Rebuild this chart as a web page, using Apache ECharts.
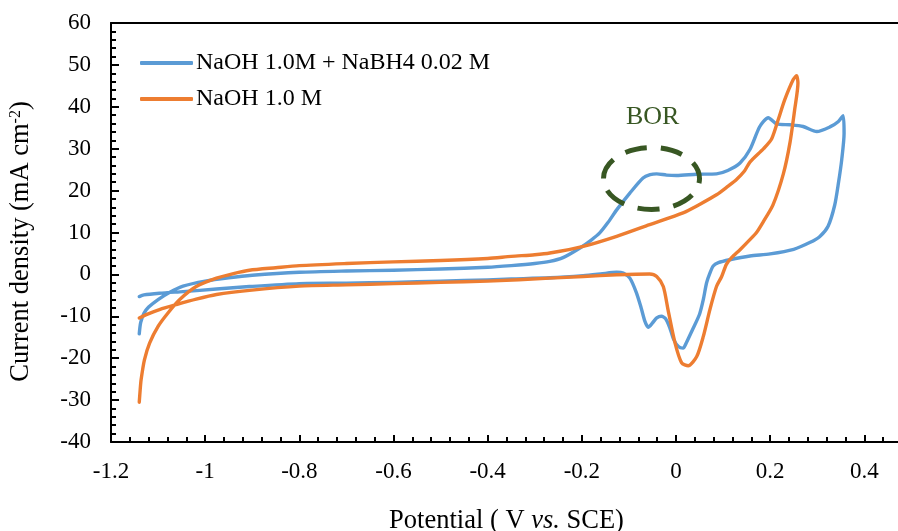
<!DOCTYPE html>
<html>
<head>
<meta charset="utf-8">
<script src="https://cdn.jsdelivr.net/npm/echarts@6/dist/echarts.min.js"></script>
<style>
  html, body { margin: 0; padding: 0; background: #ffffff; }
  #chart { width: 898px; height: 531px; }
</style>
</head>
<body>
<div id="chart"></div>
<script>
// Cyclic voltammograms: potential (V vs. SCE) and current density (mA cm-2), in scan order.
const bhPotential = [
  -1.140, -1.137, -1.130, -1.120, -1.100, -1.076, -1.047, -1.000, -0.950, -0.900,
  -0.800, -0.700, -0.600, -0.500, -0.400, -0.350, -0.300, -0.268, -0.240, -0.204,
  -0.180, -0.162, -0.145, -0.126, -0.098, -0.070, -0.055, -0.041, -0.020, 0.001,
  0.044, 0.086, 0.110, 0.136, 0.157, 0.178, 0.196, 0.214, 0.242, 0.270,
  0.299, 0.327, 0.345, 0.355,
  0.357, 0.352, 0.345, 0.337, 0.323, 0.305, 0.284, 0.250, 0.200, 0.157,
  0.114, 0.090, 0.079, 0.072, 0.065, 0.058, 0.050, 0.035, 0.022, 0.015,
  0.005, -0.005, -0.013, -0.022, -0.031, -0.041, -0.050, -0.059, -0.066, -0.074,
  -0.084, -0.098, -0.112, -0.126, -0.160, -0.197, -0.268, -0.350, -0.400, -0.500,
  -0.600, -0.700, -0.800, -0.906, -0.976, -1.047, -1.097, -1.130, -1.140
];
const bhCurrent = [
  -14.2, -11.5, -9.3, -7.8, -6.0, -4.3, -2.8, -1.6, -0.8, -0.2,
  0.5, 0.8, 1.0, 1.3, 1.7, 2.1, 2.6, 3.1, 4.0, 6.3,
  8.2, 9.9, 12.3, 15.4, 19.4, 23.0, 23.8, 24.0, 23.7, 23.6,
  23.9, 24.0, 24.8, 26.6, 29.8, 35.3, 37.4, 35.9, 35.7, 35.3,
  34.1, 35.2, 36.5, 37.9,
  33.7, 27.4, 21.8, 16.5, 11.5, 9.0, 7.6, 6.0, 4.9, 4.4,
  3.5, 2.8, 2.0, 0.3, -2.0, -6.0, -9.5, -13.2, -16.3, -17.6,
  -17.2, -15.5, -12.8, -10.6, -10.0, -10.4, -11.6, -12.6, -11.2, -8.0,
  -4.4, -0.9, 0.3, 0.5, 0.1, -0.3, -0.8, -1.1, -1.3, -1.6,
  -1.9, -2.1, -2.2, -2.9, -3.5, -4.1, -4.5, -4.9, -5.3
];

const naohPotential = [
  -1.140, -1.138, -1.136, -1.129, -1.118, -1.100, -1.079, -1.054, -1.019, -0.976,
  -0.940, -0.906, -0.850, -0.800, -0.700, -0.600, -0.500, -0.400, -0.350, -0.300,
  -0.268, -0.197, -0.126, -0.056, 0.015, 0.050, 0.086, 0.110, 0.128, 0.145,
  0.157, 0.186, 0.203, 0.217, 0.231, 0.249, 0.256,
  0.259, 0.252, 0.242, 0.228, 0.206, 0.185, 0.171, 0.157, 0.136, 0.118,
  0.107, 0.097, 0.086, 0.072, 0.058, 0.044, 0.026, 0.012, -0.002, -0.017,
  -0.027, -0.041, -0.056, -0.126, -0.197, -0.268, -0.400, -0.500, -0.600, -0.700,
  -0.800, -0.906, -0.976, -1.019, -1.061, -1.097, -1.125, -1.140
];
const naohCurrent = [
  -30.5, -27.5, -25.1, -20.4, -16.4, -12.4, -9.2, -6.0, -2.9, -0.9,
  0.2, 1.0, 1.6, 2.1, 2.6, 3.0, 3.3, 3.8, 4.3, 4.7,
  5.1, 6.7, 9.1, 11.9, 14.7, 16.7, 19.0, 21.0, 22.6, 24.6,
  26.8, 30.0, 32.3, 36.9, 41.7, 46.5, 47.4,
  45.7, 39.3, 31.4, 24.0, 16.6, 12.5, 10.0, 8.3, 5.9, 4.0,
  2.4, -0.5, -2.9, -8.4, -14.8, -19.6, -21.8, -21.1, -16.4, -8.4,
  -2.9, -0.5, 0.1, -0.1, -0.5, -0.9, -1.6, -1.9, -2.2, -2.5,
  -2.8, -3.8, -4.8, -5.9, -7.2, -8.4, -9.6, -10.4
];

const seriesNames = ['NaOH 1.0M + NaBH4 0.02 M', 'NaOH 1.0 M'];
const seriesColors = ['#5B9BD5', '#ED7D31'];

function pairs(xs, ys) {
  return xs.map(function (x, i) { return [x, ys[i]]; });
}

const FONT = '"Liberation Serif", "Times New Roman", serif';
const X_MIN = -1.2, X_MAX = 0.48;

const chart = echarts.init(document.getElementById('chart'), null, { renderer: 'canvas' });

const axisLineStyle = { color: '#000000', width: 2 };

chart.setOption({
  animation: false,
  backgroundColor: '#ffffff',
  grid: { left: 111, right: -4, top: 23, bottom: 89, containLabel: false, outerBoundsMode: 'none' },
  legend: {
    orient: 'vertical',
    left: 140,
    top: 51,
    padding: 0,
    itemWidth: 53,
    itemHeight: 4,
    itemGap: 12,
    icon: 'roundRect',
    data: seriesNames,
    textStyle: { fontFamily: FONT, fontSize: 24, color: '#000000', padding: [0, 0, 0, -2] }
  },
  xAxis: [
    {
      // major ticks, labels and axis title
      type: 'value', position: 'bottom', min: X_MIN, max: X_MAX, interval: 0.2,
      splitLine: { show: false },
      axisLine: { onZero: false, lineStyle: axisLineStyle },
      axisTick: { inside: true, length: 7, lineStyle: { color: '#000', width: 2 } },
      axisLabel: {
        margin: 18, fontFamily: FONT, fontSize: 23, color: '#000',
        formatter: function (v) {
          const k = Math.round(v / 0.2);
          if (Math.abs(v - k * 0.2) > 1e-6 || v > 0.41) return '';
          const r = Math.round(v * 10) / 10;
          return r === 0 ? '0' : String(r);
        }
      },
      name: 'Potential ( V {i|vs.} SCE)',
      nameLocation: 'middle',
      nameGap: 66,
      nameTextStyle: {
        fontFamily: FONT, fontSize: 26.5, color: '#000',
        rich: { i: { fontFamily: FONT, fontSize: 26.5, fontStyle: 'italic', color: '#000' } }
      }
    },
    {
      // minor ticks every 0.04 V
      type: 'value', position: 'bottom', min: X_MIN, max: X_MAX, interval: 0.04,
      splitLine: { show: false },
      axisLine: { show: false, onZero: false },
      axisTick: { inside: true, length: 5, lineStyle: { color: '#000', width: 2 } },
      axisLabel: { show: false }
    },
    {
      // frame line along the top of the plot area
      type: 'value', position: 'top', min: X_MIN, max: X_MAX,
      splitLine: { show: false },
      axisLine: { onZero: false, lineStyle: axisLineStyle },
      axisTick: { show: false },
      axisLabel: { show: false }
    }
  ],
  yAxis: {
    type: 'value', min: -40, max: 60, interval: 10,
    splitLine: { show: false },
    axisLine: { show: true, onZero: false, lineStyle: axisLineStyle },
    axisTick: { show: true, inside: true, length: 8, lineStyle: { color: '#000', width: 2 } },
    minorTick: { show: true, splitNumber: 5, length: 5, lineStyle: { color: '#000', width: 2 } },
    axisLabel: { margin: 20, fontFamily: FONT, fontSize: 23, color: '#000' },
    name: 'Current density (mA cm{s|-2})',
    nameLocation: 'middle',
    nameGap: 76,
    nameTextStyle: {
      fontFamily: FONT, fontSize: 26.5, color: '#000',
      padding: [0, 18, 0, 0],
      rich: { s: { fontFamily: FONT, fontSize: 16, color: '#000', verticalAlign: 'top', lineHeight: 26 } }
    }
  },
  series: [
    {
      name: seriesNames[0], type: 'line', xAxisIndex: 0, yAxisIndex: 0,
      data: pairs(bhPotential, bhCurrent),
      smooth: 0.25, showSymbol: false, symbol: 'none',
      lineStyle: { color: seriesColors[0], width: 3.4, cap: 'round', join: 'round' },
      itemStyle: { color: seriesColors[0] }
    },
    {
      name: seriesNames[1], type: 'line', xAxisIndex: 0, yAxisIndex: 0,
      data: pairs(naohPotential, naohCurrent),
      smooth: 0.25, showSymbol: false, symbol: 'none',
      lineStyle: { color: seriesColors[1], width: 3.4, cap: 'round', join: 'round' },
      itemStyle: { color: seriesColors[1] }
    }
  ],
  graphic: [
    {
      type: 'ellipse',
      shape: { cx: 651.5, cy: 178.5, rx: 48, ry: 31 },
      style: { fill: 'none', stroke: '#385723', lineWidth: 5, lineDash: [22, 14] },
      z: 10
    },
    {
      type: 'text',
      left: 626, top: 104,
      style: { text: 'BOR', fill: '#385723', font: '26px ' + FONT },
      z: 10
    }
  ]
});
</script>
</body>
</html>
